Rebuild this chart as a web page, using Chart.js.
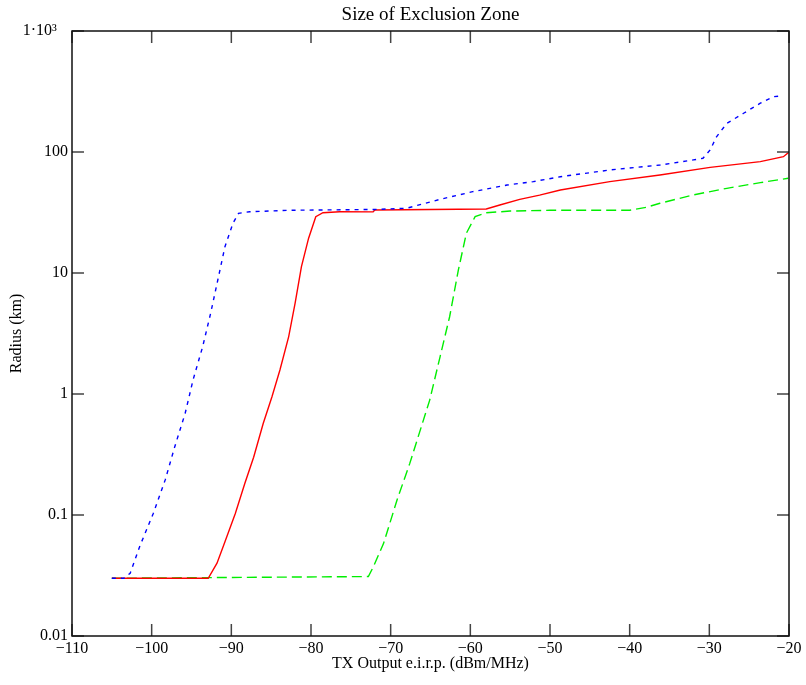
<!DOCTYPE html>
<html>
<head>
<meta charset="utf-8">
<script src="https://cdn.jsdelivr.net/npm/chart.js@4/dist/chart.umd.min.js"></script>
<style>
    body { margin: 0; background: #fff; }
    canvas { display: block; }
</style>
</head>
<body>
<canvas id="myChart" width="806" height="685"></canvas>
<script>
// series (x in dBm/MHz, y = radius in km)
const blueX = [-105, -103.5, -102.7, -101.5, -99.8, -98.3, -97.1, -95.8, -94.8, -93.6, -92.6, -91.7, -90.8, -89.8, -89.1, -87.7, -82.6, -72, -68, -63.8, -59.7, -55.4, -52.1, -48.7, -42.5, -36.2, -32, -30.8, -29.9, -29.1, -27.8, -25.7, -23.6, -22, -20.8];
const blueY = [0.03, 0.03, 0.033, 0.055, 0.103, 0.195, 0.367, 0.69, 1.31, 2.46, 4.64, 8.75, 16.5, 25.7, 31.1, 32.1, 33, 33.5, 34.3, 40.6, 47, 53.3, 56.9, 62.5, 71, 78, 86, 88.7, 104, 133.6, 172.6, 209, 253, 286, 292];

const redX = [-105, -92.9, -91.8, -90.8, -89.5, -88.3, -87.2, -86, -84.9, -83.9, -82.8, -82, -81.2, -80.3, -79.4, -78.5, -76.4, -72.2, -72, -58, -56.3, -53.8, -51.3, -48.7, -42.5, -36.2, -29.9, -23.6, -20.7, -20];
const redY = [0.03, 0.03, 0.04, 0.06, 0.103, 0.183, 0.3, 0.57, 0.95, 1.58, 2.98, 5.6, 11.3, 19.4, 29.2, 31.5, 32.1, 32, 33.2, 33.8, 36.5, 40.6, 44, 48.5, 56.9, 64.6, 74.7, 83.2, 91.4, 100];

const greenX = [-105, -72.8, -72.2, -70.9, -69.2, -67.6, -65.1, -63.8, -62.6, -61.5, -60.5, -59.4, -58, -55, -50, -45, -40, -37.9, -36.2, -32, -27.8, -23.6, -20.1];
const greenY = [0.03, 0.031, 0.037, 0.058, 0.133, 0.267, 0.89, 2.03, 4.35, 10.6, 21.3, 29.2, 31.5, 32.5, 33, 33, 33, 34.9, 37.7, 44.2, 50.1, 55.8, 60.7];

const xTicks = [-110, -100, -90, -80, -70, -60, -50, -40, -30, -20];
const xTickLabels = ['\u2212110', '\u2212100', '\u221290', '\u221280', '\u221270', '\u221260', '\u221250', '\u221240', '\u221230', '\u221220'];
const yTicks = [0.01, 0.1, 1, 10, 100, 1000];
const yTickLabels = ['0.01', '0.1', '1', '10', '100', '1\u00b710\u00b3\u2002\u2009'];

function toPoints(xs, ys) {
    return xs.map((x, i) => ({ x: x, y: ys[i] }));
}

const serif = 'Liberation Serif';

// frame + inward tick marks like the original plot
const framePlugin = {
    id: 'frame',
    afterDraw(chart) {
        const ctx = chart.ctx;
        const a = chart.chartArea;
        const xs = chart.scales.x;
        const ys = chart.scales.y;
        const len = 12;
        ctx.save();
        ctx.strokeStyle = '#444';
        ctx.lineWidth = 1.5;
        ctx.beginPath();
        xTicks.forEach(v => {
            const px = xs.getPixelForValue(v);
            ctx.moveTo(px, a.bottom);
            ctx.lineTo(px, a.bottom - len);
            ctx.moveTo(px, a.top);
            ctx.lineTo(px, a.top + len);
        });
        yTicks.forEach(v => {
            const py = ys.getPixelForValue(v);
            ctx.moveTo(a.left, py);
            ctx.lineTo(a.left + len, py);
            ctx.moveTo(a.right, py);
            ctx.lineTo(a.right - len, py);
        });
        ctx.stroke();
        ctx.strokeStyle = '#111';
        ctx.lineWidth = 1.5;
        ctx.strokeRect(a.left, a.top, a.right - a.left, a.bottom - a.top);
        ctx.restore();
    }
};

const ctx1 = document.getElementById('myChart');

new Chart(ctx1, {
    type: 'line',
    data: {
        datasets: [{
            label: 'blue',
            data: toPoints(blueX, blueY),
            borderColor: '#0000ff',
            borderWidth: 1.4,
            borderDash: [4, 5]
        }, {
            label: 'red',
            data: toPoints(redX, redY),
            borderColor: '#ff0000',
            borderWidth: 1.4
        }, {
            label: 'green',
            data: toPoints(greenX, greenY),
            borderColor: '#00ee00',
            borderWidth: 1.4,
            borderDash: [10, 5]
        }]
    },
    options: {
        responsive: false,
        animation: false,
        parsing: false,
        elements: {
            point: { radius: 0 },
            line: { tension: 0, fill: false }
        },
        layout: {
            padding: { left: 0, right: 17, top: 0, bottom: 0 }
        },
        plugins: {
            legend: { display: false },
            tooltip: { enabled: false },
            title: {
                display: true,
                fullSize: false,
                text: 'Size of Exclusion Zone',
                color: '#000',
                font: { family: serif, size: 19, weight: 'normal' },
                padding: { top: 4, bottom: 4.2 }
            }
        },
        scales: {
            x: {
                type: 'linear',
                min: -110,
                max: -20,
                grid: { display: false, drawTicks: false },
                border: { display: false },
                afterBuildTicks: scale => {
                    scale.ticks = xTicks.map(v => ({ value: v }));
                },
                afterFit: scale => {
                    scale.height = 49;
                },
                ticks: {
                    color: '#000',
                    padding: 3,
                    maxRotation: 0,
                    font: { family: serif, size: 16 },
                    callback: (value, index) => xTickLabels[index]
                },
                title: {
                    display: true,
                    text: 'TX Output e.i.r.p. (dBm/MHz)',
                    color: '#000',
                    font: { family: serif, size: 16 },
                    padding: { top: 0, bottom: 12 }
                }
            },
            y: {
                type: 'logarithmic',
                min: 0.01,
                max: 1000,
                grid: { display: false, drawTicks: false },
                border: { display: false },
                afterBuildTicks: scale => {
                    scale.ticks = yTicks.map(v => ({ value: v }));
                },
                afterFit: scale => {
                    scale.width = 72;
                },
                ticks: {
                    color: '#000',
                    padding: 4,
                    font: { family: serif, size: 16 },
                    callback: (value, index) => yTickLabels[index]
                },
                title: {
                    display: true,
                    text: 'Radius (km)',
                    color: '#000',
                    font: { family: serif, size: 16 },
                    padding: { top: 7, bottom: 0 }
                }
            }
        }
    },
    plugins: [framePlugin]
});
</script>
</body>
</html>
